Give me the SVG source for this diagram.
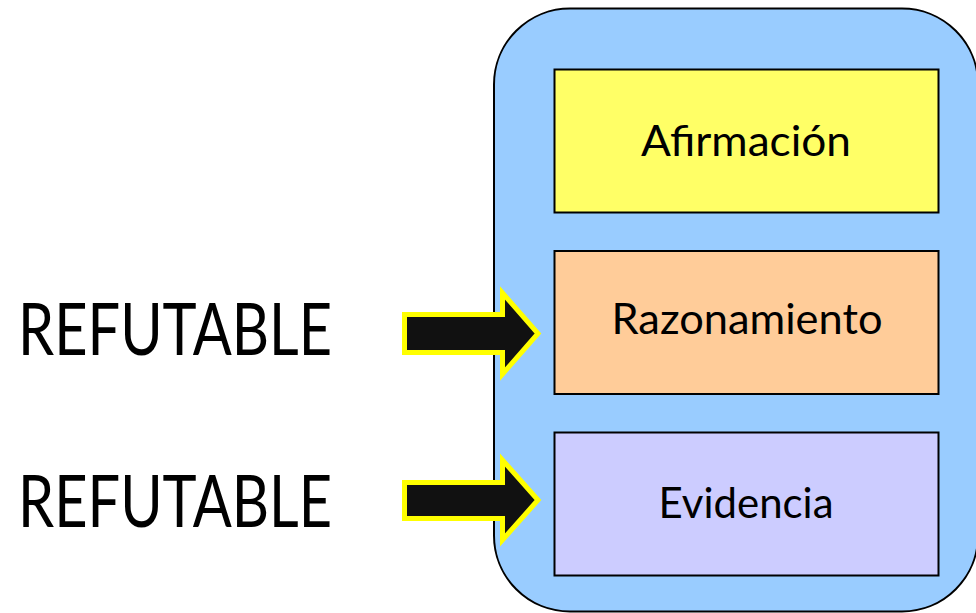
<svg xmlns="http://www.w3.org/2000/svg" width="976" height="613" viewBox="0 0 976 613">
<style>
.box{stroke:#000;stroke-width:2}
.lbl{font-family:Lato,"Open Sans","Liberation Sans",sans-serif;fill:#000;text-anchor:middle}
.inner{font-size:43px}
.big{font-size:72px}
.arrow{fill:#111;stroke:#FFFF00;stroke-width:5;stroke-linejoin:miter;stroke-miterlimit:10}
</style>
<rect width="976" height="613" fill="#fff"/>
<g id="container">
<rect x="494" y="8.5" width="484" height="603" rx="76" ry="76" fill="#99CCFF" stroke="#000" stroke-width="2"/>
</g>
<g id="afirmacion">
<rect class="box" x="554.5" y="69.5" width="384" height="143" fill="#FFFF66"/>
<text class="lbl inner" x="746" y="156" textLength="210" lengthAdjust="spacingAndGlyphs">Afirmación</text>
</g>
<g id="razonamiento">
<rect class="box" x="554.5" y="251" width="384" height="143" fill="#FFCC99"/>
<text class="lbl inner" x="747" y="334" textLength="271" lengthAdjust="spacingAndGlyphs">Razonamiento</text>
</g>
<g id="evidencia">
<rect class="box" x="554.5" y="432.5" width="384" height="143" fill="#CCCCFF"/>
<text class="lbl inner" x="746" y="518" textLength="175" lengthAdjust="spacingAndGlyphs">Evidencia</text>
</g>
<g id="refutable1">
<text class="lbl big" x="175" y="355" textLength="314" lengthAdjust="spacingAndGlyphs">REFUTABLE</text>
</g>
<g id="refutable2">
<text class="lbl big" x="175" y="527" textLength="314" lengthAdjust="spacingAndGlyphs">REFUTABLE</text>
</g>
<g id="connectors">
<path class="arrow" d="M404.5,314.5 L502.5,314.5 L502.5,293 L538,333.5 L502.5,374 L502.5,352.5 L404.5,352.5 Z"/>
<path class="arrow" d="M404.5,482.5 L502.5,482.5 L502.5,460 L538,500 L502.5,540 L502.5,518.5 L404.5,518.5 Z"/>
</g>
</svg>
